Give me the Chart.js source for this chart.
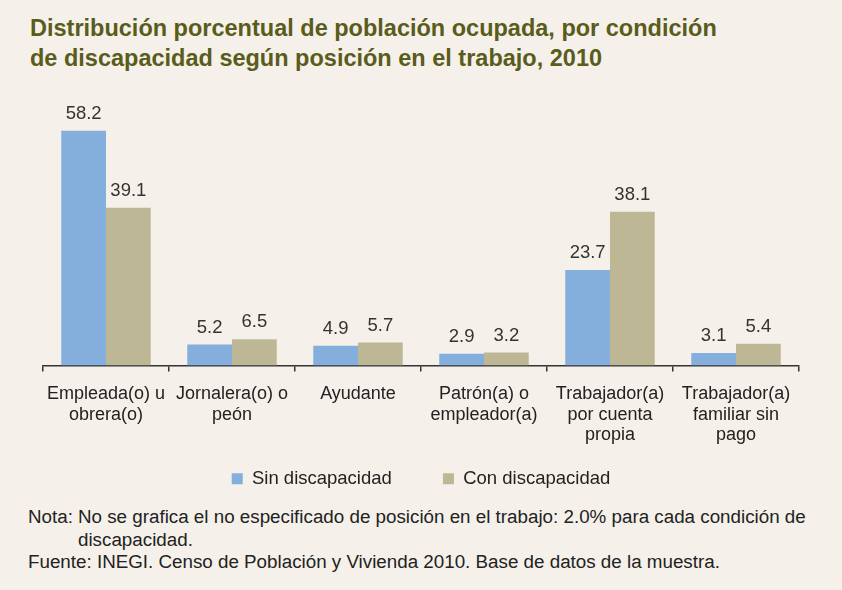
<!DOCTYPE html>
<html>
<head>
<meta charset="utf-8">
<script src="https://cdn.jsdelivr.net/npm/chart.js@4"></script>
<style>
  html, body { margin: 0; padding: 0; }
  body { width: 842px; height: 590px; background: #f5f1ea; position: relative; overflow: hidden; font-family: "Liberation Sans", Arial, sans-serif; }
  #title { position: absolute; left: 30px; top: 13px; font-weight: bold; font-size: 23.5px; line-height: 30px; color: #5a5c1c; white-space: nowrap; }
  #chartBox { position: absolute; left: 0; top: 0; width: 842px; height: 500px; }
  .note { position: absolute; font-size: 18.8px; line-height: 22.5px; color: #222; white-space: nowrap; }
</style>
</head>
<body>
<div id="title">Distribución porcentual de población ocupada, por condición<br>de discapacidad según posición en el trabajo, 2010</div>
<div id="chartBox"><canvas id="myChart" width="842" height="500"></canvas></div>
<div class="note" style="left:28px; top:506px;">Nota:</div>
<div class="note" style="left:78px; top:506px;">No se grafica el no especificado de posición en el trabajo: 2.0% para cada condición de<br>discapacidad.</div>
<div class="note" style="left:28px; top:551px;">Fuente: INEGI. Censo de Población y Vivienda 2010. Base de datos de la muestra.</div>
<script>
let categoryLabels = [
    ['Empleada(o) u', 'obrera(o)'],
    ['Jornalera(o) o', 'peón'],
    ['Ayudante'],
    ['Patrón(a) o', 'empleador(a)'],
    ['Trabajador(a)', 'por cuenta', 'propia'],
    ['Trabajador(a)', 'familiar sin', 'pago']
];
let sinDiscapacidad = [58.2, 5.2, 4.9, 2.9, 23.7, 3.1];
let conDiscapacidad = [39.1, 6.5, 5.7, 3.2, 38.1, 5.4];

// etiquetas de valor encima de cada barra
const valueLabels = {
    id: 'valueLabels',
    afterDatasetsDraw(chart) {
        const ctx = chart.ctx;
        ctx.save();
        ctx.font = '18.5px "Liberation Sans", Arial, sans-serif';
        ctx.fillStyle = '#333333';
        ctx.textAlign = 'center';
        ctx.textBaseline = 'middle';
        chart.data.datasets.forEach((ds, i) => {
            chart.getDatasetMeta(i).data.forEach((bar, j) => {
                ctx.fillText(ds.data[j].toFixed(1), bar.x, bar.y - 17);
            });
        });
        ctx.restore();
    }
};

const ctx = document.getElementById('myChart').getContext('2d');
const myChart = new Chart(ctx, {
    type: 'bar',
    data: {
        labels: categoryLabels,
        datasets: [
            {
                label: 'Sin discapacidad',
                data: sinDiscapacidad,
                backgroundColor: '#84aedb',
                categoryPercentage: 0.71,
                barPercentage: 1.0,
            },
            {
                label: 'Con discapacidad',
                data: conDiscapacidad,
                backgroundColor: '#bdb795',
                categoryPercentage: 0.71,
                barPercentage: 1.0,
            },
        ]
    },
    plugins: [valueLabels],
    options: {
        responsive: false,
        animation: false,
        layout: {
            padding: { top: 123.5, left: 43, right: 43, bottom: 2 }
        },
        plugins: {
            tooltip: { enabled: false },
            legend: {
                position: 'bottom',
                labels: {
                    boxWidth: 11,
                    boxHeight: 11,
                    padding: 10,
                    color: '#222222',
                    font: { family: '"Liberation Sans", Arial, sans-serif', size: 18.5 },
                    // más espacio entre los dos elementos de la leyenda
                    generateLabels(chart) {
                        const items = Chart.defaults.plugins.legend.labels.generateLabels(chart);
                        items[0].text += '\u00a0\u00a0\u00a0\u00a0\u00a0\u00a0\u00a0\u00a0';
                        return items;
                    }
                }
            }
        },
        scales: {
            x: {
                border: { display: true, color: '#333333', width: 1.5 },
                grid: { display: true, drawOnChartArea: false, tickLength: 6, color: '#333333', lineWidth: 1.5 },
                ticks: {
                    color: '#222222',
                    padding: 12,
                    maxRotation: 0,
                    autoSkip: false,
                    font: { family: '"Liberation Sans", Arial, sans-serif', size: 18, lineHeight: 1.15 }
                },
                afterFit(scale) { scale.height = 94; }
            },
            y: {
                display: false,
                min: 0,
                max: 60
            }
        }
    }
});
</script>
</body>
</html>
